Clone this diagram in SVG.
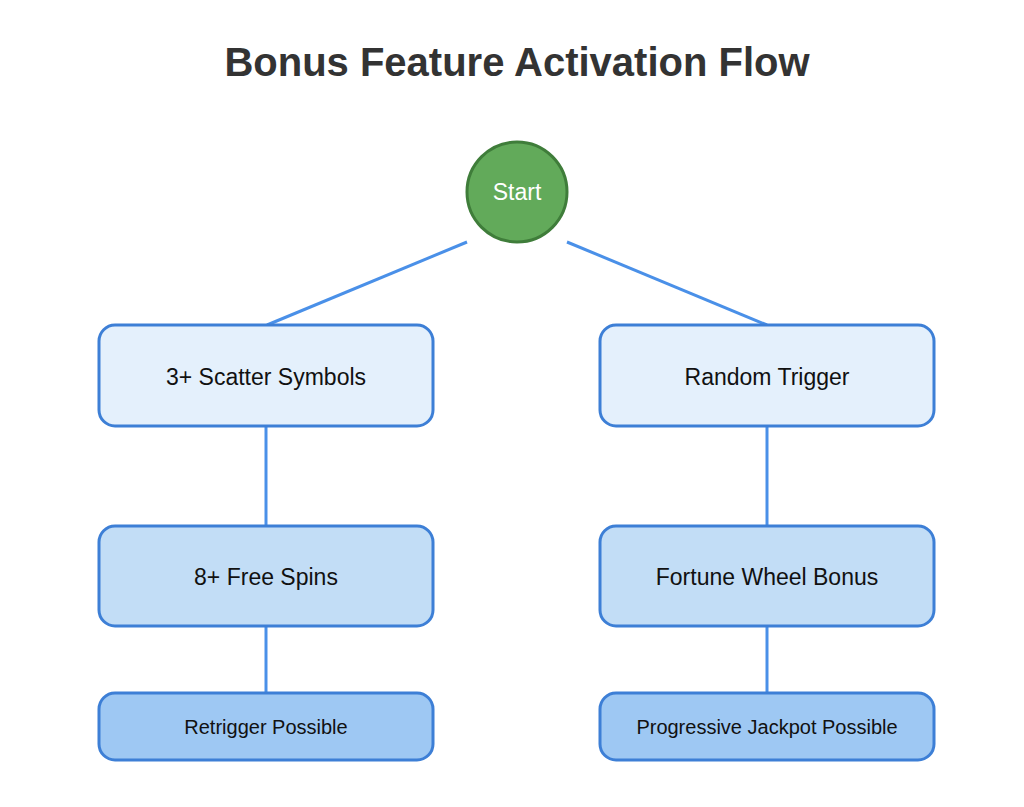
<svg xmlns="http://www.w3.org/2000/svg" width="1024" height="807" viewBox="0 0 1024 807">
<style>
.title{font-family:"Liberation Sans",Arial,sans-serif;font-weight:bold;font-size:40px;fill:#333;text-anchor:middle}
.lbl{font-family:"Liberation Sans",Arial,sans-serif;font-size:23px;fill:#111;text-anchor:middle;dominant-baseline:central}
.sm{font-size:20px}
.box{stroke:#3d7fd6;stroke-width:3}
.l1{fill:#e4f0fc}.l2{fill:#c2ddf6}.l3{fill:#9ec8f3}
.conn{stroke:#4a90e8;stroke-width:3;fill:none}
</style>
<rect width="1024" height="807" fill="#fff"/>
<text class="title" x="517" y="76">Bonus Feature Activation Flow</text>
<g id="connectors">
<line class="conn" x1="467" y1="242" x2="267" y2="325"/>
<line class="conn" x1="567" y1="242" x2="767" y2="325"/>
<line class="conn" x1="266" y1="426" x2="266" y2="526"/>
<line class="conn" x1="767" y1="426" x2="767" y2="526"/>
<line class="conn" x1="266" y1="626" x2="266" y2="693"/>
<line class="conn" x1="767" y1="626" x2="767" y2="693"/>
</g>
<g id="start">
<circle cx="517" cy="192" r="50" fill="#62aa5a" stroke="#3f7d3a" stroke-width="3"/>
<text class="lbl" x="517" y="192" style="fill:#fff">Start</text>
</g>
<g id="scatter">
<rect class="box l1" x="99" y="325" width="334" height="101" rx="16"/>
<text class="lbl" x="266" y="377">3+ Scatter Symbols</text>
</g>
<g id="random">
<rect class="box l1" x="600" y="325" width="334" height="101" rx="16"/>
<text class="lbl" x="767" y="377">Random Trigger</text>
</g>
<g id="freespins">
<rect class="box l2" x="99" y="526" width="334" height="100" rx="16"/>
<text class="lbl" x="266" y="577">8+ Free Spins</text>
</g>
<g id="wheel">
<rect class="box l2" x="600" y="526" width="334" height="100" rx="16"/>
<text class="lbl" x="767" y="577">Fortune Wheel Bonus</text>
</g>
<g id="retrigger">
<rect class="box l3" x="99" y="693" width="334" height="67" rx="16"/>
<text class="lbl sm" x="266" y="727">Retrigger Possible</text>
</g>
<g id="jackpot">
<rect class="box l3" x="600" y="693" width="334" height="67" rx="16"/>
<text class="lbl sm" x="767" y="727">Progressive Jackpot Possible</text>
</g>
</svg>
